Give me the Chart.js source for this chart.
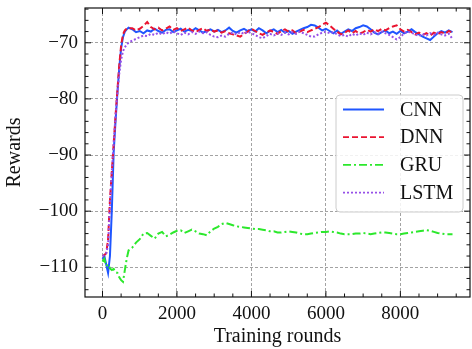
<!DOCTYPE html>
<html>
<head>
<meta charset="utf-8">
<script src="https://cdn.jsdelivr.net/npm/chart.js@4/dist/chart.umd.min.js"></script>
<style>
  body { margin: 0; background: #fff; }
  canvas { display: block; }
</style>
</head>
<body>
<canvas id="rewardChart" width="472" height="349"></canvas>
<script>
// Training rounds (x) shared by all series
const rounds = [
    0, 50, 100, 150, 200, 250, 300, 350, 400, 450, 500, 550, 600, 650, 700,
    800, 900,
    1000, 1100, 1200, 1300, 1400, 1500, 1600, 1700, 1800, 1900,
    2000, 2100, 2200, 2300, 2400, 2500, 2600, 2700, 2800, 2900,
    3000, 3100, 3200, 3300, 3400, 3500, 3600, 3700, 3800, 3900,
    4000, 4100, 4200, 4300, 4400, 4500, 4600, 4700, 4800, 4900,
    5000, 5100, 5200, 5300, 5400, 5500, 5600, 5700, 5800, 5900,
    6000, 6100, 6200, 6300, 6400, 6500, 6600, 6700, 6800, 6900,
    7000, 7100, 7200, 7300, 7400, 7500, 7600, 7700, 7800, 7900,
    8000, 8100, 8200, 8300, 8400, 8500, 8600, 8700, 8800, 8900,
    9000, 9100, 9200, 9300, 9400
];

const cnnRewards = [
    -108.5, -108, -109.5, -111, -108, -100, -89.5, -84, -79, -74.5, -71, -69, -68, -67.6, -67.3,
    -67.6, -68.1,
    -67.9, -68.3, -67.8, -68.0, -67.5, -67.9, -68.2, -67.7, -67.6, -68.1,
    -67.8, -67.5, -68.0, -67.7, -67.9, -67.4, -67.8, -68.2, -67.9, -67.6,
    -68.0, -67.7, -68.1, -67.8, -67.3, -67.9, -68.2, -67.8, -67.5, -67.9,
    -67.6, -68.0, -67.4, -67.8, -68.3, -67.9, -67.6, -68.1, -67.7, -68.2,
    -67.9, -68.4, -68.0, -67.7, -67.4, -67.2, -66.8, -66.9, -67.3, -67.8,
    -67.5, -67.9, -68.3, -67.8, -68.4, -68.0, -67.6, -67.9, -67.4, -67.2,
    -66.9, -67.1, -67.6, -68.2, -68.5, -68.1, -67.8, -68.3, -68.0, -68.4,
    -67.9, -68.3, -68.0, -67.6, -68.1, -68.5, -68.9, -69.2, -69.5, -68.9,
    -68.3, -67.9, -68.2, -67.8, -68.1
];

const dnnRewards = [
    -108, -107.8, -107.5, -105, -98, -93, -88, -83, -78.5, -74, -70.5, -68.5, -67.8, -67.5, -67.4,
    -67.4, -67.8,
    -67.5, -67.0, -66.3, -67.2, -67.6, -67.3, -67.8, -67.5, -67.1, -67.7,
    -67.4, -67.9, -67.6, -67.3, -67.8, -68.1, -67.7, -67.4, -67.9, -67.6,
    -68.0, -67.8, -68.2, -67.9, -68.3, -68.5, -68.7, -68.9, -68.4, -68.0,
    -67.5, -67.9, -68.3, -68.6, -68.2, -67.8, -68.1, -68.4, -67.9, -67.6,
    -68.0, -67.8, -68.3, -68.0, -67.7, -68.1, -67.8, -67.5, -67.2, -66.8,
    -66.4, -66.9, -67.5, -68.0, -68.5, -68.2, -67.8, -68.3, -67.9, -68.4,
    -68.1, -67.7, -68.0, -67.6, -67.9, -67.5, -67.8, -67.4, -67.1, -66.9,
    -67.6, -68.0, -67.7, -68.1, -68.5, -68.2, -68.6, -68.3, -68.7, -68.2,
    -68.5, -68.1, -68.4, -67.9, -68.2
];

const gruRewards = [
    -109, -108.5, -109.8, -109.5, -110.2, -110.5, -110.3, -110.9, -111, -111.8, -112.3, -112.6, -110.5, -108.5, -107,
    -106.5, -105.6,
    -105, -104, -103.9, -104.4, -104.9, -104, -103.7, -104.5, -104.2, -103.8,
    -103.5, -103.4, -103.9, -103.6, -103.3, -103.6, -104, -104.1, -104.3, -103.6,
    -103.1, -102.8, -102.3, -102.1, -102.3, -102.5, -102.7, -102.8, -102.9, -103,
    -103.1, -103.2, -103.2, -103.3, -103.4, -103.6, -103.6, -103.8, -103.8, -103.7,
    -103.6, -103.7, -103.8, -104, -104.1, -104.1, -104, -103.9, -103.8, -103.7,
    -103.7, -103.6, -103.7, -103.8, -104, -104.1, -104.1, -104.1, -104, -104,
    -103.9, -104, -104.1, -104, -103.9, -103.8, -103.8, -103.9, -104, -104.1,
    -104.1, -104, -103.9, -103.8, -103.7, -103.6, -103.5, -103.4, -103.5, -103.7,
    -103.9, -104, -104.1, -104.1, -104.1
];

const lstmRewards = [
    -108, -107.8, -107.5, -106, -99, -93, -88, -83, -79, -75.5, -73, -71.5, -70.8, -70.3, -70,
    -69.6, -69.3,
    -69.0, -68.7, -68.8, -68.4, -68.6, -68.2, -68.5, -68.1, -68.4, -68.0,
    -68.3, -68.6, -68.2, -68.5, -68.1, -68.4, -68.0, -68.3, -68.1, -68.6,
    -68.9, -69.0, -68.7, -68.9, -68.4, -68.2, -68.5, -68.1, -68.4, -68.0,
    -68.3, -68.6, -69.0, -69.2, -68.8, -68.4, -68.7, -68.3, -68.6, -68.2,
    -68.5, -68.1, -68.4, -68.0, -68.3, -68.6, -68.9, -68.9, -68.5, -68.2,
    -68.0, -68.3, -68.1, -68.5, -68.8, -68.6, -68.9, -68.4, -68.7, -68.3,
    -68.6, -68.2, -68.5, -68.1, -68.4, -68.0, -68.3, -68.6, -69.0, -69.4,
    -69.0, -68.3, -68.0, -68.2, -68.5, -68.8, -68.4, -68.7, -68.3, -68.6,
    -68.2, -68.5, -68.7, -68.4, -69.3
];

const seriesNames = ['CNN', 'DNN', 'GRU', 'LSTM'];
const xTicks = [0, 2000, 4000, 6000, 8000];
const yTicks = [-110, -100, -90, -80, -70];

const colors = ['#1f56ff', '#ea1430', '#2ce82c', '#9650e8'];
const dashes = [[], [6, 3], [8, 3, 2, 3], [2, 2]];
const serif = "'Liberation Serif', 'DejaVu Serif', serif";

function toPoints(values) {
    return values.map((v, i) => ({ x: rounds[i], y: v }));
}

function fmt(v) {
    return v < 0 ? '\u2212' + Math.abs(v) : String(v);
}

// frame, inward ticks on all sides and the legend box
const framePlugin = {
    id: 'frame',
    afterDraw(chart) {
        const ctx = chart.ctx;
        const a = chart.chartArea;
        const xs = chart.scales.x;
        const ys = chart.scales.y;
        ctx.save();
        ctx.strokeStyle = '#111';
        ctx.lineWidth = 1.2;
        ctx.strokeRect(a.left, a.top, a.right - a.left, a.bottom - a.top);

        ctx.lineWidth = 1;
        ctx.beginPath();
        for (let v = -500; v <= 9500; v += 500) {
            const px = xs.getPixelForValue(v);
            if (px < a.left || px > a.right) continue;
            const len = v % 2000 === 0 ? 6 : 3.5;
            ctx.moveTo(px, a.bottom); ctx.lineTo(px, a.bottom - len);
            ctx.moveTo(px, a.top); ctx.lineTo(px, a.top + len);
        }
        for (let v = -114; v <= -64; v += 2) {
            const py = ys.getPixelForValue(v);
            const len = v % 10 === 0 ? 6 : 3.5;
            ctx.moveTo(a.left, py); ctx.lineTo(a.left + len, py);
            ctx.moveTo(a.right, py); ctx.lineTo(a.right - len, py);
        }
        ctx.stroke();

        // legend
        const bx = 336, by = 95, bw = 127, bh = 117, r = 4;
        ctx.beginPath();
        ctx.roundRect(bx, by, bw, bh, r);
        ctx.fillStyle = 'rgba(255,255,255,0.85)';
        ctx.fill();
        ctx.strokeStyle = '#cccccc';
        ctx.lineWidth = 1;
        ctx.stroke();

        ctx.font = '20px ' + serif;
        ctx.textBaseline = 'middle';
        ctx.textAlign = 'left';
        seriesNames.forEach((name, i) => {
            const y = 109.5 + i * 27.7;
            ctx.beginPath();
            ctx.setLineDash(dashes[i]);
            ctx.strokeStyle = colors[i];
            ctx.lineWidth = 1.8;
            ctx.moveTo(343, y);
            ctx.lineTo(384, y);
            ctx.stroke();
            ctx.setLineDash([]);
            ctx.fillStyle = '#111';
            ctx.fillText(name, 400, y + 1);
        });
        ctx.restore();
    }
};

const allRewards = [cnnRewards, dnnRewards, gruRewards, lstmRewards];

new Chart(document.getElementById('rewardChart').getContext('2d'), {
    type: 'line',
    data: {
        datasets: seriesNames.map((name, i) => ({
            label: name,
            data: toPoints(allRewards[i]),
            borderColor: colors[i],
            borderDash: dashes[i],
            borderWidth: 2,
            pointRadius: 0,
            tension: 0,
            fill: false,
            order: 4 - i
        }))
    },
    options: {
        responsive: false,
        animation: false,
        devicePixelRatio: 1,
        layout: { padding: { top: 8, right: 2, left: 0, bottom: 0 } },
        plugins: {
            legend: { display: false },
            tooltip: { enabled: false }
        },
        scales: {
            x: {
                type: 'linear',
                min: -470,
                max: 9870,
                afterFit: s => { s.height = 52; s.paddingLeft = 0; s.paddingRight = 0; },
                afterBuildTicks: s => { s.ticks = xTicks.map(v => ({ value: v })); },
                grid: { color: '#a3a3a3', lineWidth: 1, drawTicks: false },
                border: { display: false, dash: [3, 2] },
                ticks: {
                    padding: 6,
                    color: '#111',
                    font: { family: serif, size: 19 },
                    maxRotation: 0,
                    callback: v => fmt(v)
                },
                title: {
                    display: true,
                    text: 'Training rounds',
                    color: '#111',
                    font: { family: serif, size: 20 },
                    padding: { top: 0, bottom: 0 }
                }
            },
            y: {
                type: 'linear',
                min: -115.3,
                max: -63.8,
                afterFit: s => { s.width = 85; s.paddingTop = 0; s.paddingBottom = 0; },
                afterBuildTicks: s => { s.ticks = yTicks.map(v => ({ value: v })); },
                grid: { color: '#a3a3a3', lineWidth: 1, drawTicks: false },
                border: { display: false, dash: [3, 2] },
                ticks: {
                    padding: 7,
                    color: '#111',
                    font: { family: serif, size: 19 },
                    callback: v => fmt(v)
                },
                title: {
                    display: true,
                    text: 'Rewards',
                    color: '#111',
                    font: { family: serif, size: 20 },
                    padding: { top: 3, bottom: 0 }
                }
            }
        }
    },
    plugins: [framePlugin]
});
</script>
</body>
</html>
